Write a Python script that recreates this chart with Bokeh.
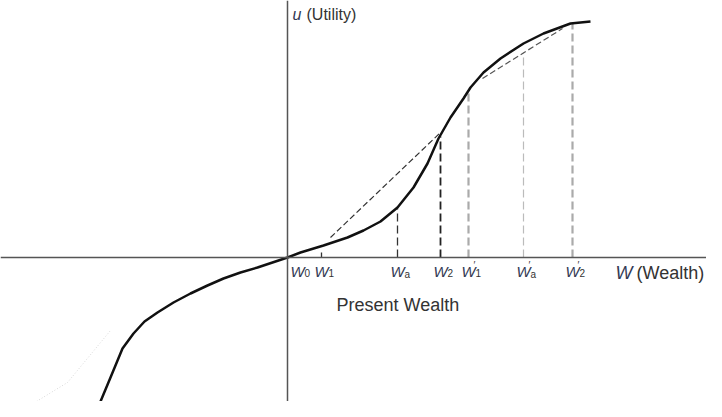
from bokeh.plotting import figure
from bokeh.models import Range1d, Span
from bokeh.core.properties import value
from bokeh.embed import file_html
from bokeh.resources import INLINE

# ---- data (wealth, utility) ----
curve_w = [-198, -192, -177, -165, -154, -143, -130, -114, -97, -80, -64, -47, -30, -15, 0, 13, 36, 60, 76, 93,
           110, 126, 140, 151, 163, 176, 183, 196, 213, 236, 256, 283, 303]
curve_u = [-170, -156, -120, -91, -76, -64, -55, -45, -36, -28, -21, -15, -10, -5, 0, 5, 12, 20, 27, 36,
           50, 70, 94, 119, 140, 159, 170, 185, 199, 214, 224, 234, 236]

faint_w = [-274, -220, -177]
faint_u = [-158, -125, -73]

chord1_w = [43, 153]
chord1_u = [20, 125]
chord2_w = [195, 275]
chord2_u = [179, 229]

tick_w = [0, 34, 110, 153, 181, 236, 285]
tick_sub = ["0", "1", "a", "2", "1", "a", "2"]
tick_prime = [False, False, False, False, True, True, True]

vline_w = [110, 153, 181, 236, 285]
vline_top = [49, 121, 167, 205, 234]
vline_color = ["#333333", "#222222", "#aaaaaa", "#bbbbbb", "#aaaaaa"]
vline_width = [1.3, 1.8, 2.2, 1.2, 2.2]

w1_tick_top = 5

FONT = value("Liberation Sans")

p = figure(width=706, height=401, output_backend="svg", toolbar_location=None,
           x_range=Range1d(-287, 419), y_range=Range1d(-144, 257),
           min_border=0, x_axis_location=None, y_axis_location=None)
p.grid.visible = False
p.outline_line_color = None
p.background_fill_color = "white"

# axes
p.add_layout(Span(location=0, dimension="width", line_color="#555555", line_width=1.5))
p.add_layout(Span(location=0, dimension="height", line_color="#555555", line_width=1.5))

# faint dotted line
p.line(faint_w, faint_u, line_color="#d8d8d8", line_width=1, line_dash="1 2")

# vertical dashed lines
p.segment(x0=vline_w, y0=[0] * len(vline_w), x1=vline_w, y1=vline_top,
          line_color=vline_color, line_width=vline_width, line_dash="8 4")
# W1 small tick
p.segment(x0=[tick_w[1]], y0=[0], x1=[tick_w[1]], y1=[w1_tick_top], line_color="#333333", line_width=1.3)

# chords
p.line(chord1_w, chord1_u, line_color="#333333", line_width=1.2, line_dash="6 3")
p.line(chord2_w, chord2_u, line_color="#555555", line_width=1.2, line_dash="6 3")

# utility curve
p.line(curve_w, curve_u, line_color="#111111", line_width=2.5, line_join="round")

# tick labels
lab_x = [x + (10 if x == 0 else 0) for x in tick_w]
p.text(x=lab_x, y=[-5] * len(lab_x), text=["W"] * len(lab_x), text_font=FONT,
       text_font_style="italic", text_font_size="15px", text_align="center", text_baseline="top",
       text_color="#333a55")
p.text(x=[x + 7 for x in lab_x], y=[-11] * len(lab_x), text=tick_sub, text_font=FONT,
       text_font_size="10px", text_align="left", text_baseline="top", text_color="#333333")
pr_x = [x + 5 for x, pr in zip(lab_x, tick_prime) if pr]
p.text(x=pr_x, y=[-2] * len(pr_x), text=["\u2032"] * len(pr_x), text_font=FONT,
       text_font_size="10px", text_align="left", text_baseline="top", text_color="#333333")

# other texts
p.text(x=[49], y=[-47], text=["Present Wealth"], text_font=FONT, text_font_size="18px",
       text_align="left", text_baseline="alphabetic", text_color="#333333")
p.text(x=[328], y=[-15], text=["W"], text_font=FONT, text_font_size="18px", text_font_style="italic",
       text_align="left", text_baseline="alphabetic", text_color="#333a55")
p.text(x=[349], y=[-15], text=["(Wealth)"], text_font=FONT, text_font_size="18px",
       text_align="left", text_baseline="alphabetic", text_color="#333333")
p.text(x=[5], y=[243], text=["u"], text_font=FONT, text_font_size="16px", text_font_style="italic",
       text_align="left", text_baseline="alphabetic", text_color="#333a55")
p.text(x=[19], y=[243], text=["(Utility)"], text_font=FONT, text_font_size="16px",
       text_align="left", text_baseline="alphabetic", text_color="#333333")

open("out.html", "w").write(file_html(p, INLINE))
